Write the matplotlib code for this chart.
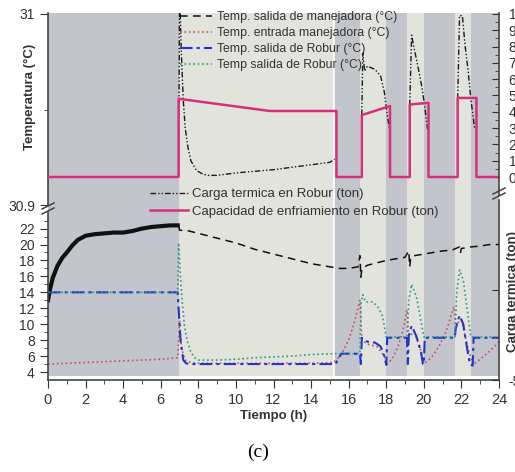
import numpy as np
import matplotlib.pyplot as plt
from matplotlib.lines import Line2D

plt.rcParams['font.family'] = ['Liberation Sans', 'DejaVu Sans']

nan = np.nan

# periodos con Robur encendido (fondo claro)
on_start = [6.95, 16.6, 19.1, 21.65]
on_end = [15.23, 18.0, 20.0, 22.5]

# Temp. salida de manejadora (°C)
t_man_a = [0, 0.1, 0.25, 0.5, 0.75, 1.0, 1.3, 1.6, 2.0, 2.5, 3.0, 3.5, 4.0, 4.5, 5.0, 5.5, 6.0, 6.5, 6.9]
T_man_a = [13.0, 14.3, 15.8, 17.3, 18.3, 19.0, 19.9, 20.6, 21.1, 21.3, 21.4, 21.5, 21.5, 21.7, 22.0, 22.2, 22.3, 22.4, 22.4]
t_man_b = [6.95, 7.0, 7.5, 8, 9, 10, 11, 12, 13, 14, 15, 15.5, 16, 16.5, 16.6, 16.65, 16.7, 17, 17.5, 18,
           18.5, 19, 19.2, 19.25, 19.3, 19.5, 20, 20.5, 21, 21.5, 21.9, 21.95, 22, 22.5, 23, 23.5, 24]
T_man_b = [22.4, 21.8, 21.7, 21.4, 20.8, 20.2, 19.4, 18.8, 18.2, 17.6, 17.2, 17.0, 17.0, 17.2, 18.6, 15.9, 17.0, 17.4, 17.7, 18.0,
           18.2, 18.4, 19.2, 17.2, 18.4, 18.6, 18.8, 19.0, 19.2, 19.3, 19.7, 19.0, 19.5, 19.7, 19.8, 20.0, 20.0]

# Temp. entrada manejadora (°C)
t_ent = [0, 1, 2, 3, 4, 5, 6, 6.9, 7.0, 7.1, 7.3, 7.6, 8, 10, 12, 14, 15.2, 15.6, 16.0, 16.3, 16.6,
         16.7, 17.0, 17.5, 17.9, 18.0, 18.3, 18.6, 18.9, 19.1, 19.2, 19.5, 19.8, 20.0,
         20.4, 20.8, 21.2, 21.6, 21.7, 22.0, 22.3, 22.6, 23.0, 23.5, 24]
T_ent = [5.0, 5.1, 5.2, 5.3, 5.4, 5.5, 5.6, 5.8, 10.5, 7.0, 5.5, 5.2, 5.1, 5.1, 5.1, 5.1, 5.2, 6.2, 8.0, 10.2, 13.0,
         8.0, 7.5, 7.2, 6.0, 4.9, 5.6, 7.0, 9.3, 11.8, 8.5, 9.0, 7.0, 5.0,
         5.8, 7.2, 9.2, 12.2, 10.0, 10.5, 7.5, 4.9, 5.6, 6.6, 7.8]

# Temp. salida de Robur (°C), azul
t_rob = [0, 6.9, 6.95, 7.05, 7.2, 7.35, 7.5, 8, 10, 12, 14, 15.3, 15.6, 16.6, 16.65, 16.7, 17.0, 17.4, 17.7, 17.9, 18.0,
         18.05, 19.1, 19.15, 19.2, 19.35, 19.6, 19.85, 19.95, 20.0, 20.05, 21.65, 21.7, 21.9, 22.1, 22.3, 22.45, 22.6, 22.65, 24]
T_rob = [14.0, 14.0, 12.0, 8.0, 5.5, 5.1, 5.0, 5.0, 5.0, 5.0, 5.0, 5.0, 6.3, 6.3, 5.0, 8.3, 7.8, 7.7, 7.2, 6.0, 4.9,
         8.3, 8.3, 5.0, 8.5, 9.8, 8.5, 6.5, 5.0, 5.0, 8.3, 8.3, 9.5, 11.1, 10.0, 7.0, 5.0, 4.8, 8.3, 8.3]

# Temp salida de Robur (°C), verde
t_rob2 = [0, 6.9, 6.95, 7.0, 7.1, 7.25, 7.4, 7.6, 7.8, 8.0, 9, 10, 11, 12, 13, 14, 15.3, 16.6, 16.65, 16.75, 16.9,
          17.3, 17.6, 17.8, 18.0, 19.1, 19.2, 19.35, 19.6, 19.8, 20.0, 21.65, 21.75, 21.9, 22.1, 22.3, 22.5, 24]
T_rob2 = [14.0, 14.0, 20.2, 18.0, 14.0, 10.0, 8.0, 6.5, 5.8, 5.5, 5.5, 5.6, 5.8, 5.9, 6.0, 6.2, 6.3, 6.3, 12.5, 13.7, 12.8,
          12.8, 12.0, 11.0, 8.4, 8.4, 13.0, 15.0, 13.5, 11.0, 8.4, 8.4, 14.0, 16.8, 15.5, 12.0, 8.4, 8.4]

# Carga termica en Robur (ton)
t_carga = [6.95, 7.0, 7.05, 7.1, 7.2, 7.3, 7.45, 7.6, 7.9, 8.2, 8.5, 9, 10, 11, 12, 13, 14, 15, 15.25, nan,
           16.7, 16.75, 16.85, 17.0, 17.4, 17.7, 17.9, 18.05, 18.2, nan,
           19.25, 19.35, 19.5, 19.7, 19.9, 20.05, 20.2, nan,
           21.8, 21.9, 22.05, 22.2, 22.35, 22.5, 22.7]
carga = [0, 11, 9.5, 7.5, 4.7, 3.0, 1.8, 1.0, 0.4, 0.2, 0.1, 0.1, 0.25, 0.35, 0.45, 0.6, 0.75, 0.9, 1.1, nan,
         3.8, 7.6, 6.5, 6.8, 6.6, 6.2, 5.2, 3.8, 2.8, nan,
         4.4, 8.7, 7.8, 6.7, 5.5, 4.3, 2.9, nan,
         4.8, 9.9, 9.9, 8.0, 6.6, 4.8, 3.0]

# Capacidad de enfriamiento en Robur (ton)
t_cap = [0, 6.95, 6.95, 11.8, 15.35, 15.35, 16.7, 16.7, 18.2, 18.2, 19.25, 19.25, 20.25, 20.25,
         21.8, 21.8, 22.8, 22.8, 24]
cap = [0, 0, 4.8, 4.05, 4.05, 0, 0, 3.8, 4.35, 0, 0, 4.45, 4.55, 0, 0, 4.85, 4.85, 0, 0]

W, H = 515, 472
fig = plt.figure(figsize=(W / 100, H / 100), dpi=100)


def box(x0, y0, x1, y1):
    return [x0 / W, 1 - y1 / H, (x1 - x0) / W, (y1 - y0) / H]


X0, X1 = 48, 499
gray = '#c2c5cc'
light = '#e2e3dc'
txt = '#333333'

# fondo
ax_bg = fig.add_axes(box(X0, 13, X1, 380))
ax_bg.set_xlim(0, 24)
ax_bg.set_ylim(0, 1)
ax_bg.axvspan(0, 24, ymin=4 / 367, ymax=1, color=gray, lw=0)
for a, b in zip(on_start, on_end):
    ax_bg.axvspan(a, b, ymin=4 / 367, ymax=1, color=light, lw=0)
ax_bg.axvline(15.23, color='white', lw=1.2)
ax_bg.axis('off')

# panel superior
ax_top = fig.add_axes(box(X0, 13, X1, 207))
ax_top.patch.set_visible(False)
ax_top.set_xlim(0, 24)
ax_top.set_ylim(30.899, 31.0005)
ax_top.set_yticks([30.9, 31])
ax_top.set_yticklabels(['30.9', '31'])
ax_top.set_yticks([30.95], minor=True)
ax_top.set_xticks([])
for s in ['top', 'right', 'bottom']:
    ax_top.spines[s].set_visible(False)
ax_top.spines['left'].set_bounds(30.9, 31.0005)

ax_r1 = ax_top.twinx()
ax_r1.set_ylim(-1.84, 10.06)
ax_r1.set_yticks(range(0, 11))
ax_r1.set_yticks(np.arange(0.5, 10, 1), minor=True)
for s in ['top', 'left', 'bottom']:
    ax_r1.spines[s].set_visible(False)
ax_r1.spines['right'].set_bounds(-1.1, 10.06)
ax_r1.tick_params(axis='y', which='both', direction='in', labelsize=10, pad=7, colors=txt)
ax_r1.tick_params(axis='y', which='major', length=5)
ax_r1.tick_params(axis='y', which='minor', length=3)

l_carga, = ax_r1.plot(t_carga, carga, color='#1a1a1a', lw=1.0, dashes=(4, 1.5, 1, 1.5, 1, 1.5),
                      label='Carga termica en Robur (ton)')
l_cap, = ax_r1.plot(t_cap, cap, color='#d6307d', lw=1.8, label='Capacidad de enfriamiento en Robur (ton)')

# panel inferior
ax_bot = fig.add_axes(box(X0, 212, X1, 380))
ax_bot.patch.set_visible(False)
ax_bot.set_xlim(0, 24)
ax_bot.set_ylim(3.0, 24.08)
ax_bot.set_yticks(range(4, 23, 2))
ax_bot.set_yticks(range(5, 24, 2), minor=True)
ax_bot.set_xticks(range(0, 25, 2))
ax_bot.set_xticks(range(1, 24, 2), minor=True)
for s in ['top', 'right']:
    ax_bot.spines[s].set_visible(False)

ax_bot.plot(t_man_a, T_man_a, color='#111111', lw=3.0)
l_man, = ax_bot.plot(t_man_b, T_man_b, color='#111111', lw=1.1, dashes=(5, 3.5),
                     label='Temp. salida de manejadora (°C)')
l_ent, = ax_bot.plot(t_ent, T_ent, color='#cc4d63', lw=1.2, ls=':', label='Temp. entrada manejadora (°C)')
l_rob, = ax_bot.plot(t_rob, T_rob, color='#2436c8', lw=1.5, dashes=(6, 2, 1.5, 2),
                     label='Temp. salida de Robur (°C)')
l_rob2, = ax_bot.plot(t_rob2, T_rob2, color='#2b9b80', lw=1.2, ls=':', label='Temp salida de Robur (°C)')

ax_r2 = fig.add_axes(box(X0, 200, X1, 380))
ax_r2.patch.set_visible(False)
ax_r2.set_xticks([])
ax_r2.set_ylim(-5, 5)
ax_r2.yaxis.tick_right()
ax_r2.set_yticks([-5, 0])
ax_r2.set_yticklabels(['-5', ''])
for s in ['top', 'left', 'bottom']:
    ax_r2.spines[s].set_visible(False)
ax_r2.tick_params(axis='y', direction='in', length=5, labelsize=10, pad=7, colors=txt)

for ax in [ax_top, ax_bot, ax_r1, ax_r2]:
    for s in ax.spines.values():
        s.set_color('#444444')
        s.set_linewidth(1.2)
for ax in [ax_top, ax_bot]:
    ax.tick_params(axis='both', which='major', direction='out', length=6, labelsize=10, colors=txt)
    ax.tick_params(axis='both', which='minor', direction='out', length=3, colors=txt)
ax_bot.tick_params(axis='x', labelsize=10.5, pad=3)

# marcas de corte
for (xc, yc) in [(48, 206), (48, 211), (499, 191), (499, 196)]:
    fig.add_artist(Line2D([(xc - 6) / W, (xc + 6) / W], [1 - (yc + 3) / H, 1 - (yc - 3) / H],
                          color='#444444', lw=1.1))

# textos
fig.text(30 / W, 1 - 97 / H, 'Temperatura (°C)', rotation=90, ha='center', va='center',
         fontsize=9.5, fontweight='bold', color=txt)
fig.text(507 / W, 1 - 292 / H, 'Carga termica (ton)', rotation=90, ha='left', va='center',
         fontsize=9.5, fontweight='bold', color=txt)
fig.text(274 / W, 1 - 416 / H, 'Tiempo (h)', ha='center', va='center',
         fontsize=9.5, fontweight='bold', color=txt)
fig.text(258 / W, 1 - 452 / H, '(c)', ha='center', va='center', fontsize=14,
         family=['Liberation Serif', 'DejaVu Serif'])

leg1 = fig.legend(handles=[l_man, l_ent, l_rob, l_rob2], loc='upper left',
                  bbox_to_anchor=(180 / W, 1 - 11 / H), frameon=False, fontsize=8.8,
                  handlelength=2.6, handletextpad=0.4, labelspacing=0.33, borderpad=0, borderaxespad=0)
for t in leg1.get_texts():
    t.set_color(txt)
leg2 = fig.legend(handles=[l_carga, l_cap], loc='upper left',
                  bbox_to_anchor=(150 / W, 1 - 188 / H), frameon=False, fontsize=9.5,
                  handlelength=2.9, handletextpad=0.3, labelspacing=0.4, borderpad=0, borderaxespad=0)
for t in leg2.get_texts():
    t.set_color(txt)

fig.savefig('out.png', dpi=100)
